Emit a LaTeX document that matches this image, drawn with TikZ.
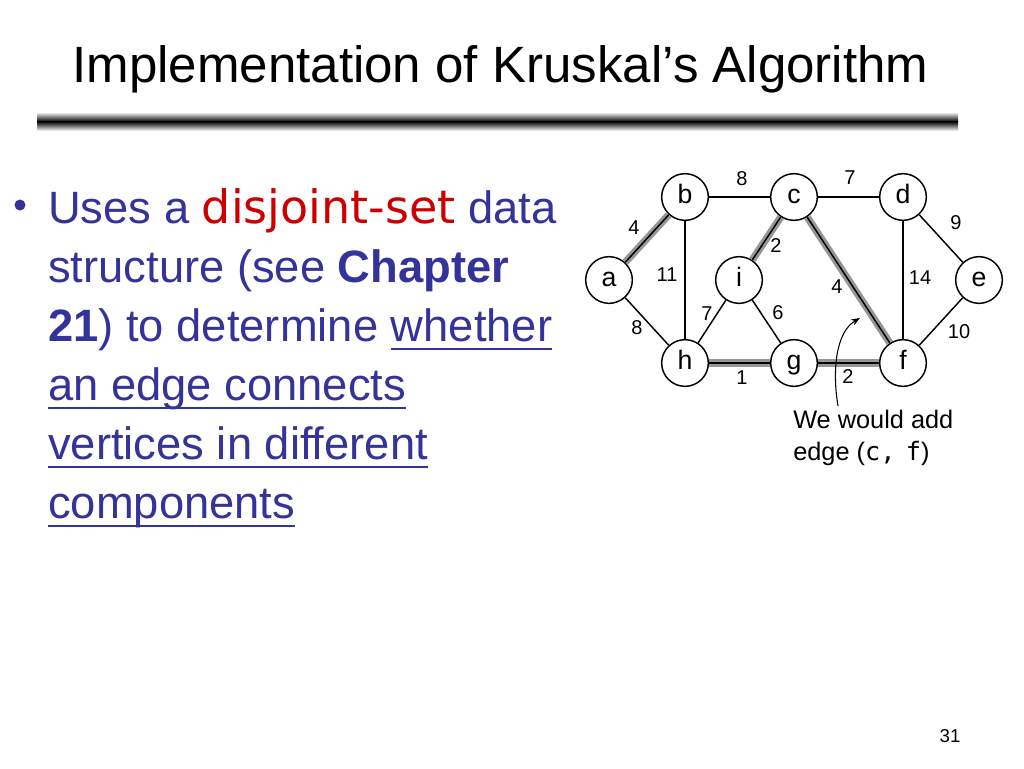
\documentclass[tikz,border=0pt]{standalone}
\usepackage{fontspec}
\setmainfont{Liberation Sans}
\newfontfamily\handfont{DejaVu Sans}
\newfontfamily\codefont{DejaVu Sans Mono}
\usepackage{xcolor}
\usetikzlibrary{arrows.meta}

\definecolor{slideblue}{RGB}{51,51,153}
\definecolor{slidered}{RGB}{204,0,0}
\definecolor{treegray}{RGB}{150,150,150}

% underline that sits just under the baseline
\newcommand{\undl}[1]{\setbox0=\hbox{#1}\rlap{\rule[-6.5pt]{\wd0}{1.6pt}}\box0}

\begin{document}
\begin{tikzpicture}[x=0.75pt, y=-0.75pt, >=Stealth,
    vertex/.style={circle, draw, fill=white, line width=1.1pt, minimum size=35pt, inner sep=0pt,
        text height=14pt, text depth=4pt, font=\fontsize{20}{20}\selectfont},
    plainedge/.style={line width=1.1pt},
    treeedge/.style={line width=5.5pt, draw=treegray},
    wlabel/.style={inner sep=1pt, font=\fontsize{15}{15}\selectfont},
    bodyline/.style={anchor=base west, inner sep=0pt, text=slideblue,
        font=\fontsize{34}{38}\selectfont},
    notetext/.style={anchor=base west, inner sep=0pt, font=\fontsize{19}{22}\selectfont}]
    \useasboundingbox (0,0) rectangle (1024,768);

    % Title and rule
    \node[anchor=base west, inner sep=0pt, font=\fontsize{38.3}{40}\selectfont] (title) at (72,82)
        {Implementation of Kruskal’s Algorithm};
    \shade[top color=black!10, bottom color=black] (37,113) rectangle (958,121.5);
    \shade[top color=black, bottom color=black!10] (37,121.5) rectangle (958,130);

    % Bullet text
    \fill[slideblue] (20,205) circle (5.5);
    \node[bodyline] (line1) at (48,223)
        {Uses a {\handfont\fontsize{34.5}{38}\selectfont\color{slidered}disjoint-set} data};
    \node[bodyline] (line2) at (48,282) {structure (see \textbf{Chapter}};
    \node[bodyline] (line3) at (48,341) {\textbf{21}) to determine \undl{whether}};
    \node[bodyline] (line4) at (48,400) {\undl{an edge connects}};
    \node[bodyline] (line5) at (48,459) {\undl{vertices in different}};
    \node[bodyline] (line6) at (48,518) {\undl{components}};

    % Vertices
    \node[vertex] (a) at (609,280) {a};
    \node[vertex] (b) at (685,197) {b};
    \node[vertex] (c) at (794,197) {c};
    \node[vertex] (d) at (903,197) {d};
    \node[vertex] (e) at (979,280) {e};
    \node[vertex] (i) at (739,280) {i};
    \node[vertex] (h) at (685,363) {h};
    \node[vertex] (g) at (794,363) {g};
    \node[vertex] (f) at (903,363) {f};

    % Edges (tree edges get a gray band first)
    \foreach \u/\v in {a/b, c/i, c/f, h/g, g/f}
        \draw[treeedge] (\u) -- (\v);
    \foreach \u/\v in {a/b, a/h, b/c, b/h, c/d, c/i, c/f, d/e, d/f, e/f, h/i, i/g, h/g, g/f}
        \draw[plainedge] (\u) -- (\v);

    % Weights
    \foreach \nm/\px/\py/\w in {ab/634/228/4, ah/637/328/8, bc/742/179/8, bh/667/275/11,
        cd/850/178/7, ci/776/246/2, cf/837/287/4, de/956/223/9, df/920/278/14,
        ef/959/332/10, hi/707/314/7, ig/778/313/6, hg/742/378/1, gf/848/377/2}
        \node[wlabel] (w-\nm) at (\px,\py) {\w};

    % Note with arrow
    \node[notetext] (note1) at (793,428) {We would add};
    \node[notetext] (note2) at (793,460) {edge ({\codefont c,\kern-0.2em\ f})};
    \coordinate (tail) at (838,406);
    \coordinate (tip) at (860,318);
    \draw[->, line width=0.8pt] (tail) .. controls (832,370) and (836,332) .. (tip);

    % Page number
    \node[anchor=base, inner sep=0pt, font=\fontsize{14}{14}\selectfont] (pagenum) at (950,742) {31};
\end{tikzpicture}
\end{document}
